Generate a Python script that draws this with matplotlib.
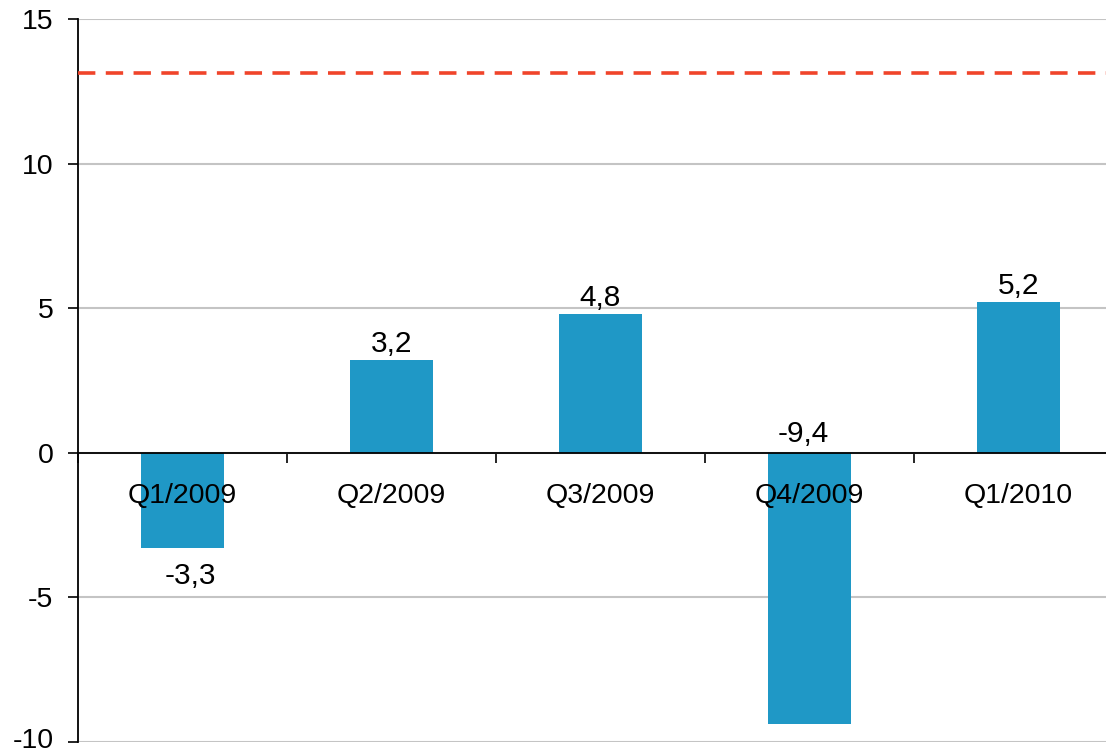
import matplotlib
matplotlib.use("Agg")
import matplotlib.pyplot as plt
import matplotlib.transforms as mtransforms
import numpy as np

categories = ["Q1/2009", "Q2/2009", "Q3/2009", "Q4/2009", "Q1/2010"]
values = [-3.3, 3.2, 4.8, -9.4, 5.2]
value_labels = ["-3,3", "3,2", "4,8", "-9,4", "5,2"]
reference_level = 13.15
y_ticks = [-10, -5, 0, 5, 10, 15]

plt.rcParams['font.family'] = ['Liberation Sans', 'DejaVu Sans']

fig = plt.figure(figsize=(11.06, 7.53), dpi=100)
W, H = 1106, 753
left_px, right_px, top_px, bot_px = 78, 1123, 19.3, 741.7
ax = fig.add_axes([left_px / W, 1 - bot_px / H, (right_px - left_px) / W, (bot_px - top_px) / H])

x = np.arange(len(categories))
ax.bar(x, values, width=0.40, color="#1f98c6", zorder=3)

ax.set_xlim(-0.5, len(categories) - 0.5)
ax.set_ylim(-10, 15)
ax.set_yticks(y_ticks)
ax.set_yticklabels([str(t) for t in y_ticks], fontsize=20.5)
ax.yaxis.grid(True, color="#c4c4c4", linewidth=1.5, zorder=0)
ax.tick_params(axis='y', direction='out', length=7.2, width=1.2, pad=10.5)

# keep the bottom tick label inside the image
lowest = ax.get_yticklabels()[0]
lowest.set_transform(lowest.get_transform() +
                     mtransforms.ScaledTranslation(0, 3 / 72, fig.dpi_scale_trans))

# x axis on zero line
ax.spines['bottom'].set_position(('data', 0))
ax.spines['bottom'].set_linewidth(1.3)
ax.spines['bottom'].set_zorder(4)
ax.spines['top'].set_visible(False)
ax.spines['right'].set_visible(False)
ax.spines['left'].set_linewidth(1.3)
ax.set_xticks(x)
ax.set_xticklabels([])
ax.set_xticks(np.arange(-0.5, len(categories), 1.0), minor=True)
ax.tick_params(axis='x', which='major', length=0)
ax.tick_params(axis='x', which='minor', direction='out', length=7, width=1.2)

# category labels drawn over the bars
for xi, c in zip(x, categories):
    ax.annotate(c, (xi, 0), xytext=(0, -36.5), textcoords='offset points',
                ha='center', va='baseline', fontsize=20.5, zorder=6,
                annotation_clip=False)

# dashed reference line
lw = 2.6
ax.axhline(reference_level, color="#f0442a", linewidth=lw,
           linestyle=(0, (12.5 / lw, 7.5 / lw)), zorder=4, clip_on=False)

# value labels
for xi, v, s in zip(x, values, value_labels):
    if v >= 0:
        ax.annotate(s, (xi, v), xytext=(0, 6), textcoords='offset points',
                    ha='center', va='baseline', fontsize=21.5, zorder=6)
    elif v < -5:
        ax.annotate(s, (xi - 0.03, 0), xytext=(0, 8), textcoords='offset points',
                    ha='center', va='baseline', fontsize=21.5, zorder=6)
    else:
        ax.annotate(s, (xi + 0.04, v), xytext=(0, -10), textcoords='offset points',
                    ha='center', va='top', fontsize=21.5, zorder=6)

fig.savefig("out.png", dpi=100)
